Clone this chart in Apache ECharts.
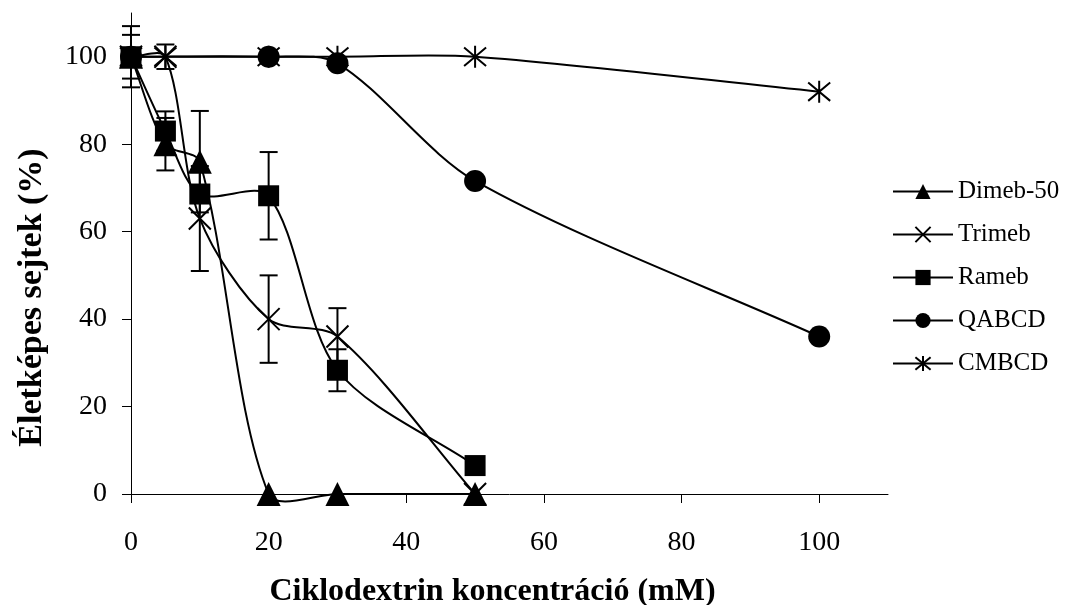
<!DOCTYPE html>
<html>
<head>
<meta charset="utf-8">
<script src="https://cdn.jsdelivr.net/npm/echarts@6/dist/echarts.min.js"></script>
<style>
  html, body { margin: 0; padding: 0; background: #fff; }
  #chart { width: 1066px; height: 605px; }
</style>
</head>
<body>
<div id="chart"></div>
<script>
// Axis tick values
const xTicks = [0, 20, 40, 60, 80, 100];
const yTicks = [0, 20, 40, 60, 80, 100];

// Cyclodextrin concentration (mM) and viable cells (%) with error (±) per series
const dimebX = [0, 5, 10, 20, 30, 50];
const dimebY = [100, 80, 76, 0, 0, 0];
const dimebErr = [7, 6, 11.6, 0, 0, 0];

const trimebX = [0, 5, 10, 20, 30, 50];
const trimebY = [100, 100, 63, 40, 36, 0];
const trimebErr = [0, 2.8, 12, 10, 6.5, 0];

const ramebX = [0, 5, 10, 20, 30, 50];
const ramebY = [100, 83, 68.6, 68.2, 28.3, 6.5];
const ramebErr = [5, 4.5, 0, 10, 4.8, 0];

const qabcdX = [0, 20, 30, 50, 100];
const qabcdY = [100, 100, 98.5, 71.6, 36];

const cmbcdX = [0, 5, 20, 30, 50, 100];
const cmbcdY = [100, 100, 100, 100, 100, 92];

const seriesNames = ['Dimeb-50', 'Trimeb', 'Rameb', 'QABCD', 'CMBCD'];

const FONT = "'Liberation Serif', 'Times New Roman', serif";
const SMOOTH = 0.3;

function pairs(xs, ys) {
  return xs.map((x, i) => [x, ys[i]]);
}
function triples(xs, ys, es) {
  return xs.map((x, i) => [x, ys[i], es[i]]);
}

// Vertical error bar with horizontal caps
function errorBarItem(params, api) {
  const x = api.value(0), y = api.value(1), e = api.value(2);
  if (!e) return null;
  const top = api.coord([x, y + e]);
  const bot = api.coord([x, y - e]);
  const hw = 9;
  const style = { stroke: '#000', lineWidth: 2 };
  return {
    type: 'group',
    children: [
      { type: 'line', shape: { x1: top[0], y1: top[1], x2: bot[0], y2: bot[1] }, style: style },
      { type: 'line', shape: { x1: top[0] - hw, y1: top[1], x2: top[0] + hw, y2: top[1] }, style: style },
      { type: 'line', shape: { x1: bot[0] - hw, y1: bot[1], x2: bot[0] + hw, y2: bot[1] }, style: style }
    ]
  };
}

function errSeries(data) {
  return {
    type: 'custom',
    renderItem: errorBarItem,
    data: data,
    encode: { x: 0, y: 1 },
    silent: true,
    z: 3
  };
}

// Free-form smoothed curve through the points (cubic Bezier segments,
// tangents parallel to the neighbour chord, no clamping so it may overshoot)
function curveItem(xs, ys) {
  return function (params, api) {
    if (params.dataIndex !== 0) return null;
    const p = xs.map((x, i) => api.coord([x, ys[i]]));
    const n = p.length;
    const cps = [];
    for (let i = 0; i < n; i++) {
      const prev = p[Math.max(i - 1, 0)];
      const next = p[Math.min(i + 1, n - 1)];
      const vx = next[0] - prev[0], vy = next[1] - prev[1];
      const l0 = Math.hypot(p[i][0] - prev[0], p[i][1] - prev[1]);
      const l1 = Math.hypot(next[0] - p[i][0], next[1] - p[i][1]);
      const tot = (l0 + l1) || 1;
      cps.push({
        back: [p[i][0] - vx * SMOOTH * l0 / tot, p[i][1] - vy * SMOOTH * l0 / tot],
        fwd: [p[i][0] + vx * SMOOTH * l1 / tot, p[i][1] + vy * SMOOTH * l1 / tot]
      });
    }
    const children = [];
    for (let i = 0; i < n - 1; i++) {
      children.push({
        type: 'bezierCurve',
        shape: {
          x1: p[i][0], y1: p[i][1],
          cpx1: cps[i].fwd[0], cpy1: cps[i].fwd[1],
          cpx2: cps[i + 1].back[0], cpy2: cps[i + 1].back[1],
          x2: p[i + 1][0], y2: p[i + 1][1]
        },
        style: { stroke: '#000', lineWidth: 2, fill: null }
      });
    }
    return { type: 'group', children: children };
  };
}

function curveSeries(xs, ys) {
  return {
    type: 'custom',
    renderItem: curveItem(xs, ys),
    data: pairs(xs, ys),
    encode: { x: 0, y: 1 },
    silent: true,
    z: 4
  };
}

// Marker series (the connecting curves come from curveSeries)
const markBase = {
  type: 'line',
  lineStyle: { color: '#000', width: 0, opacity: 0 },
  emphasis: { disabled: true },
  z: 5
};

const crossPath = 'path://M0,0L20,20M20,0L0,20';
const starPath = 'path://M0,0L20,20M20,0L0,20M10,-2L10,22';

const option = {
  backgroundColor: '#fff',
  animation: false,
  grid: { left: 131, right: 178, top: 13, bottom: 111, outerBoundsMode: 'none', containLabel: false },
  xAxis: {
    type: 'value',
    min: 0,
    max: 110,
    interval: 20,
    name: 'Ciklodextrin koncentráció (mM)',
    nameLocation: 'middle',
    nameGap: 82,
    nameTextStyle: {
      fontFamily: FONT, fontWeight: 'bold', fontSize: 32, color: '#000',
      padding: [0, 34, 0, 0]
    },
    axisLine: { lineStyle: { color: '#000', width: 1 } },
    axisTick: { customValues: xTicks, length: 9, lineStyle: { color: '#000', width: 1 } },
    axisLabel: { customValues: xTicks, fontFamily: FONT, fontSize: 28, color: '#000', margin: 35 },
    splitLine: { show: false }
  },
  yAxis: {
    type: 'value',
    min: 0,
    max: 110,
    interval: 20,
    name: 'Életképes sejtek (%)',
    nameLocation: 'middle',
    nameGap: 82,
    nameTextStyle: {
      fontFamily: FONT, fontWeight: 'bold', fontSize: 34, color: '#000',
      padding: [0, 88, 0, 0]
    },
    axisLine: { show: true, lineStyle: { color: '#000', width: 1 } },
    axisTick: { show: true, customValues: yTicks, length: 9, lineStyle: { color: '#000', width: 1 } },
    axisLabel: { customValues: yTicks, fontFamily: FONT, fontSize: 28, color: '#000', margin: 24 },
    splitLine: { show: false }
  },
  legend: {
    orient: 'vertical',
    left: 892,
    top: 179,
    padding: 0,
    itemWidth: 60,
    itemHeight: 19,
    itemGap: 18,
    data: seriesNames,
    lineStyle: { color: '#000', width: 2, opacity: 1 },
    textStyle: { fontFamily: FONT, fontSize: 25, color: '#000' },
    selectedMode: false
  },
  series: [
    curveSeries(dimebX, dimebY),
    curveSeries(trimebX, trimebY),
    curveSeries(ramebX, ramebY),
    curveSeries(qabcdX, qabcdY),
    curveSeries(cmbcdX, cmbcdY),
    Object.assign({}, markBase, {
      name: 'Dimeb-50',
      data: pairs(dimebX, dimebY),
      symbol: 'triangle',
      symbolSize: 24,
      itemStyle: { color: '#000' }
    }),
    Object.assign({}, markBase, {
      name: 'Trimeb',
      data: pairs(trimebX, trimebY),
      symbol: crossPath,
      symbolSize: 22,
      itemStyle: { color: '#000', borderColor: '#000', borderWidth: 2 }
    }),
    Object.assign({}, markBase, {
      name: 'Rameb',
      data: pairs(ramebX, ramebY),
      symbol: 'rect',
      symbolSize: 21,
      itemStyle: { color: '#000' }
    }),
    Object.assign({}, markBase, {
      name: 'QABCD',
      data: pairs(qabcdX, qabcdY),
      symbol: 'circle',
      symbolSize: 22,
      itemStyle: { color: '#000' }
    }),
    Object.assign({}, markBase, {
      name: 'CMBCD',
      data: pairs(cmbcdX, cmbcdY),
      symbol: starPath,
      symbolSize: 22,
      itemStyle: { color: '#000', borderColor: '#000', borderWidth: 2 }
    }),
    errSeries(triples(dimebX, dimebY, dimebErr)),
    errSeries(triples(trimebX, trimebY, trimebErr)),
    errSeries(triples(ramebX, ramebY, ramebErr))
  ]
};

const chart = echarts.init(document.getElementById('chart'), null, { renderer: 'canvas' });
chart.setOption(option);
</script>
</body>
</html>
